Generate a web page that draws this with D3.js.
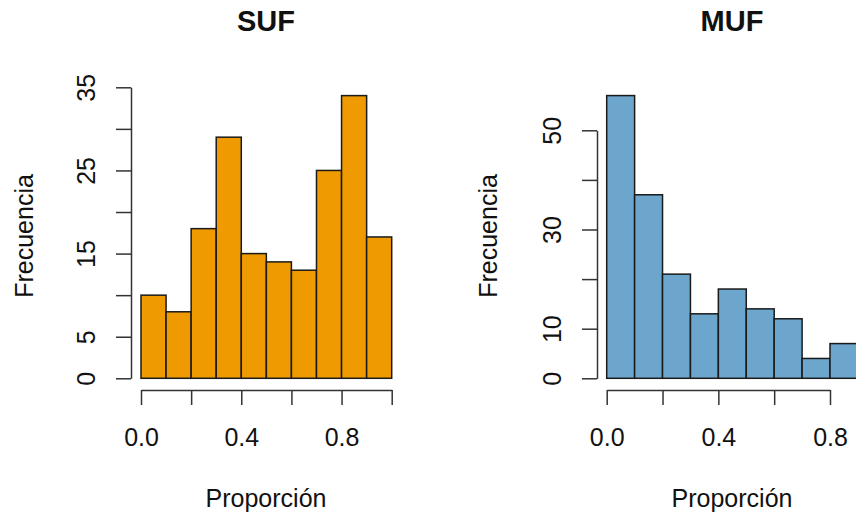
<!DOCTYPE html>
<html>
<head>
<meta charset="utf-8">
<script src="https://cdn.jsdelivr.net/npm/d3@7"></script>
<style>
  body { margin: 0; background: #fff; }
  text { font-family: "Liberation Sans", Arial, sans-serif; fill: #111; }
</style>
</head>
<body>
<div id="chart"></div>
<script>
// histogram data (counts per 0.1 bin)
var binStarts = [0, 0.1, 0.2, 0.3, 0.4, 0.5, 0.6, 0.7, 0.8, 0.9];
var binWidth = 0.1;
var sufCounts = [10, 8, 18, 29, 15, 14, 13, 25, 34, 17];
var mufCounts = [57, 37, 21, 13, 18, 14, 12, 4, 7];

var sufYTicks = [0, 5, 10, 15, 20, 25, 30, 35];
var sufYLabels = [0, 5, 15, 25, 35];
var mufYTicks = [0, 10, 20, 30, 40, 50];
var mufYLabels = [0, 10, 30, 50];
var sufXTicks = [0, 0.2, 0.4, 0.6, 0.8, 1.0];
var mufXTicks = [0, 0.2, 0.4, 0.6, 0.8];
var xLabels = [0, 0.4, 0.8];

var W = 856, H = 518;
var svg = d3.select("#chart").append("svg")
    .attr("width", W)
    .attr("height", H);

function panel(opt) {
  var x = d3.scaleLinear().domain(opt.xDomain).range(opt.xRange);
  var y = d3.scaleLinear().domain(opt.yDomain).range([378.3, opt.yTop]);

  // bars
  svg.append("g").selectAll("rect")
    .data(opt.counts)
    .enter()
    .append("rect")
      .attr("x", function(d, i) { return x(binStarts[i]); })
      .attr("width", function(d, i) { return x(binStarts[i] + binWidth) - x(binStarts[i]); })
      .attr("y", function(d) { return y(d); })
      .attr("height", function(d) { return y(0) - y(d); })
      .attr("fill", opt.color)
      .attr("stroke", "#1a1a1a")
      .attr("stroke-width", 1.5);

  // y axis
  var ya = svg.append("g")
    .attr("transform", "translate(" + opt.yAxisX + ",0)")
    .call(d3.axisLeft(y).tickValues(opt.yTicks).tickSize(15).tickSizeOuter(0)
      .tickFormat(function(d) { return opt.yLabels.indexOf(d) >= 0 ? d : ""; }));
  ya.selectAll("path, line").attr("stroke", "#333").attr("stroke-width", 1.5);
  ya.selectAll("text")
    .attr("transform", "rotate(-90)")
    .attr("x", 0).attr("y", -36).attr("dy", 0)
    .attr("text-anchor", "middle")
    .style("font-size", "25px")
    .style("font-family", "Liberation Sans, Arial, sans-serif")
    .attr("fill", "#111");

  // x axis
  var xa = svg.append("g")
    .attr("transform", "translate(0,390)")
    .call(d3.axisBottom(x).tickValues(opt.xTicks).tickSize(15).tickSizeOuter(0)
      .tickFormat(function(d) { return xLabels.indexOf(d) >= 0 ? d3.format(".1f")(d) : ""; }));
  xa.selectAll("path, line").attr("stroke", "#333").attr("stroke-width", 1.5);
  xa.selectAll("text")
    .attr("y", 56).attr("dy", 0)
    .style("font-size", "25px")
    .style("font-family", "Liberation Sans, Arial, sans-serif")
    .attr("fill", "#111");

  // title
  svg.append("text")
    .attr("x", opt.center).attr("y", 31)
    .attr("text-anchor", "middle")
    .style("font-size", "29px")
    .style("font-weight", "bold")
    .text(opt.title);

  // axis titles
  svg.append("text")
    .attr("x", opt.center).attr("y", 507)
    .attr("text-anchor", "middle")
    .style("font-size", "25px")
    .text("Proporción");

  svg.append("text")
    .attr("transform", "translate(" + opt.yLabX + ",236) rotate(-90)")
    .attr("text-anchor", "middle")
    .style("font-size", "25px")
    .text("Frecuencia");
}

panel({
  title: "SUF", counts: sufCounts, color: "#EE9A00",
  xDomain: [0, 1], xRange: [141, 391.7],
  yDomain: [0, 35], yTop: 87.3,
  yTicks: sufYTicks, yLabels: sufYLabels, xTicks: sufXTicks,
  yAxisX: 131, yLabX: 33, center: 266
});

panel({
  title: "MUF", counts: mufCounts, color: "#6CA6CD",
  xDomain: [0, 0.8], xRange: [606.7, 830],
  yDomain: [0, 50], yTop: 130.3,
  yTicks: mufYTicks, yLabels: mufYLabels, xTicks: mufXTicks,
  yAxisX: 597, yLabX: 497, center: 732
});
</script>
</body>
</html>
